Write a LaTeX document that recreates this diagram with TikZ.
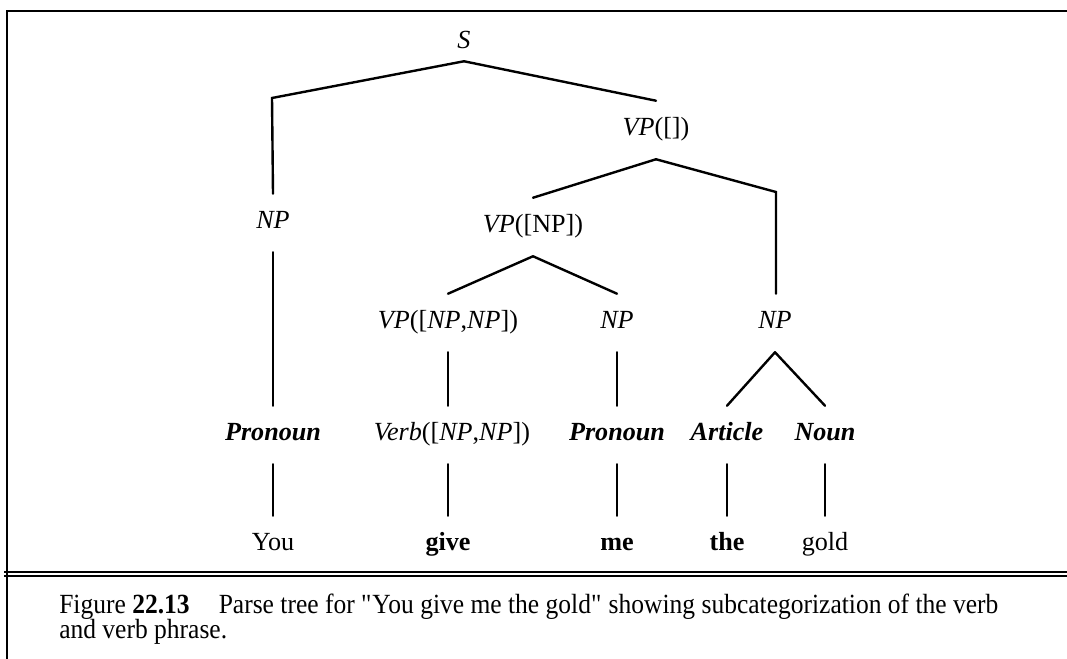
\documentclass[tikz,border=0pt]{standalone}
\usepackage{fontspec}
\setmainfont{Liberation Serif}
\newfontfamily\capfont[FakeStretch=0.92]{Liberation Serif}
\usetikzlibrary{calc}
\newcommand{\capsize}{\capfont\fontsize{20.8}{19}\selectfont}

\begin{document}
\begin{tikzpicture}[
  x=0.75pt,
  y=-0.75pt,
  font=\fontsize{19.6}{22}\selectfont,
  cat/.style={
    inner sep=0pt,
    text height=0.9em,
    text depth=0.14em,
    minimum height=43.5pt
  },
  word/.style={
    inner sep=0pt,
    text height=0.9em,
    text depth=0.14em,
    minimum height=43.5pt
  },
  branch/.style={
    draw=black,
    line width=1.8pt,
    line cap=round
  },
  frame/.style={
    draw=black,
    line width=1.1pt
  },
  capline/.style={
    anchor=base west,
    inner sep=0pt,
    font=\capsize
  }
]
\useasboundingbox (0,0) rectangle (1067,659);

% frame of the figure
\draw[frame] (1067,11) -- (7,11) -- (7,659);
\draw[frame] (4,572) -- (1067,572);
\draw[frame] (4,576) -- (1067,576);

% categories
\node[cat,minimum height=27pt] (s) at (464,43) {\textit{S}};
\node[cat] (vp0) at (656,130) {\textit{VP}([])};
\node[cat] (np1) at (273,223) {\textit{NP}};
\node[cat] (vp1) at (533,227) {\textit{VP}([NP])};
\node[cat] (vp2) at (448,323) {\textit{VP}([\textit{NP},\textit{NP}])};
\node[cat] (np2) at (617,323) {\textit{NP}};
\node[cat] (np3) at (775,323) {\textit{NP}};

\node[cat] (pron1) at (273,435) {\textbf{\textit{Pronoun}}};
\node[cat] (verb) at (452,435) {\textit{Verb}([\textit{NP},\textit{NP}])};
\node[cat] (pron2) at (617,435) {\textbf{\textit{Pronoun}}};
\node[cat] (art) at (727,435) {\textbf{\textit{Article}}};
\node[cat] (noun) at (825,435) {\textbf{\textit{Noun}}};

% words
\node[word] (you) at (273,545) {You};
\node[word] (give) at (448,545) {\textbf{give}};
\node[word] (me) at (617,545) {\textbf{me}};
\node[word] (the) at (727,545) {\textbf{the}};
\node[word] (gold) at (825,545) {gold};

\coordinate (sbend) at (272,98);
\coordinate (vpbend) at (776,192);

% branches
\draw[branch] (s.south) -- (sbend) -- (np1.north);
\draw[branch] (s.south) -- (vp0.north);
\draw[branch] (vp0.south) -- (vp1.north);
\draw[branch] (vp0.south) -- (vpbend) -- (vpbend |- np3.north);
\draw[branch] (vp1.south) -- (vp2.north);
\draw[branch] (vp1.south) -- (np2.north);
\draw[branch] (np3.south) -- (art.north);
\draw[branch] (np3.south) -- (noun.north);
\draw[branch] (np1.south) -- (pron1.north);
\draw[branch] (vp2.south) -- (vp2.south |- verb.north);
\draw[branch] (np2.south) -- (pron2.north);

\draw[branch] (pron1.south) -- (you.north);
\draw[branch] (give.north |- verb.south) -- (give.north);
\draw[branch] (pron2.south) -- (me.north);
\draw[branch] (art.south) -- (the.north);
\draw[branch] (noun.south) -- (gold.north);

% caption
\node[capline] (cap1) at (59,613)
  {Figure \textbf{22.13}\hspace{1.05em}Parse tree for \textquotedbl You give me the gold\textquotedbl{} showing subcategorization of the verb};
\node[capline] (cap2) at (59,638) {and verb phrase.};

\end{tikzpicture}
\end{document}
